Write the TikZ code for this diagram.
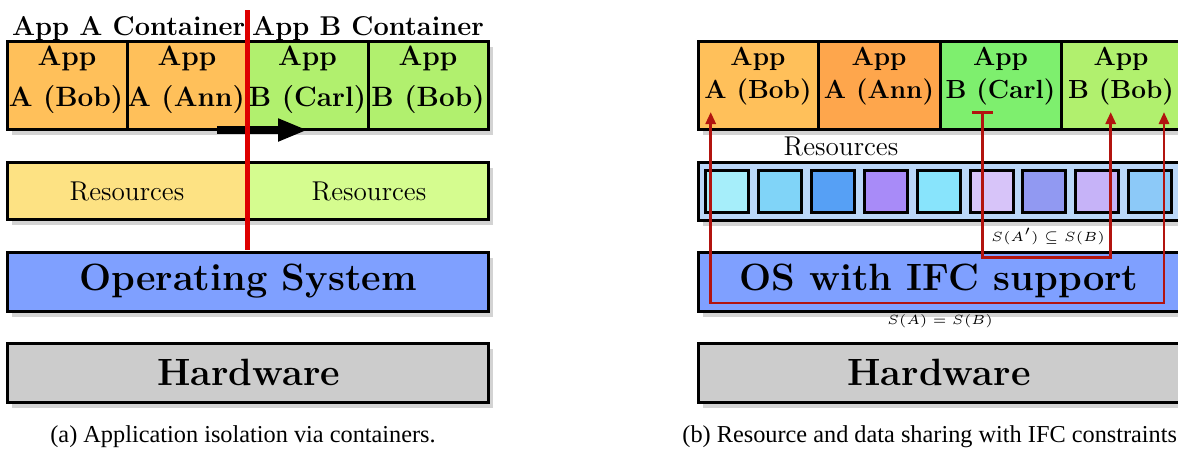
\documentclass[tikz,border=0pt]{standalone}
\usepackage{fontspec}
\newfontfamily\capfont{Liberation Serif}
\usetikzlibrary{arrows.meta,shadows}
\definecolor{appA}{HTML}{FFC05A}
\definecolor{appAnn}{HTML}{FEA64C}
\definecolor{appB}{HTML}{B1F06E}
\definecolor{appCarl}{HTML}{7EEF6E}
\definecolor{resA}{HTML}{FDE283}
\definecolor{resB}{HTML}{D5FC8F}
\definecolor{osblue}{HTML}{7FA0FF}
\definecolor{hwgray}{HTML}{CCCCCC}
\definecolor{resblue}{HTML}{BBD7F8}
\definecolor{shadowgray}{HTML}{D3D3D3}
\definecolor{isored}{RGB}{222,0,0}
\definecolor{ifcred}{RGB}{178,20,15}
\definecolor{sqa}{HTML}{A6EEFA}
\definecolor{sqb}{HTML}{80D4F8}
\definecolor{sqc}{HTML}{56A0F5}
\definecolor{sqd}{HTML}{A88BF8}
\definecolor{sqe}{HTML}{88E4FC}
\definecolor{sqf}{HTML}{D7C4F9}
\definecolor{sqg}{HTML}{9199F2}
\definecolor{sqh}{HTML}{C6B3F8}
\definecolor{sqi}{HTML}{8CC9F8}
\newcommand{\ftitle}{\fontsize{13.6}{16}\selectfont\bfseries}
\newcommand{\fappl}{\fontsize{14}{16}\selectfont\bfseries}
\newcommand{\fappr}{\fontsize{13.1}{16}\selectfont\bfseries}
\newcommand{\fres}{\fontsize{13.6}{16}\selectfont}
\newcommand{\fbig}{\fontsize{19}{22}\selectfont\bfseries}
\newcommand{\fcap}{\fontsize{12.15}{14}\selectfont\capfont}
\tikzset{
  shadowed/.style={drop shadow={shadow xshift=2.5pt,shadow yshift=-3pt,fill=shadowgray,opacity=1}},
  boxnode/.style={draw=black, line width=1.5pt, inner sep=0pt, shadowed},
  appbox/.style={boxnode, minimum width=60pt, minimum height=44pt},
  layerbox/.style={boxnode, minimum height=29.5pt},
  resbox/.style={draw=black, line width=1.5pt, inner sep=0pt, minimum width=21.5pt, minimum height=21pt},
  txt/.style={anchor=base, inner sep=0pt},
  ifc/.style={draw=ifcred, line width=1.4pt},
  ifctip/.style={arrows={Triangle[length=6pt,width=5pt]-Triangle[length=6pt,width=5pt]}},
  ifcbar/.style={arrows={Bar[width=10.5pt]-Triangle[length=6pt,width=5pt]}},
}
\begin{document}
\begin{tikzpicture}[x=0.5pt,y=-0.5pt]
\useasboundingbox (0,0) rectangle (1178,450);
\clip (0,0) rectangle (1178,450);
% ---------------- left panel ----------------
\node[txt] (ttlA) at (128.5,35) {\ftitle App A Container};
\node[txt] (ttlB) at (368,35) {\ftitle App B Container};
\node[appbox, fill=appA] (LA) at (67,85) {};
\node[appbox, fill=appA] (LB) at (187,85) {};
\node[appbox, fill=appB, minimum width=60.5pt] (LC) at (307.5,85) {};
\node[appbox, fill=appB] (LD) at (428,85) {};
\node[txt] (LA1) at (67,65) {\fappl App};
\node[txt] (LA2) at (66,106) {\fappl A (Bob)};
\node[txt] (LB1) at (187,65) {\fappl App};
\node[txt] (LB2) at (186,106) {\fappl A (Ann)};
\node[txt] (LC1) at (307.5,65) {\fappl App};
\node[txt] (LC2) at (307.5,106) {\fappl B (Carl)};
\node[txt] (LD1) at (428,65) {\fappl App};
\node[txt] (LD2) at (428,106) {\fappl B (Bob)};
\node[layerbox, fill=resA, minimum width=120pt, minimum height=28.5pt] (resL) at (127,190.5) {};
\node[layerbox, fill=resB, minimum width=120.5pt, minimum height=28.5pt] (resR) at (367.5,190.5) {};
\node[txt] (resLt) at (127,200) {\fres Resources};
\node[txt] (resRt) at (369,200) {\fres Resources};
\node[layerbox, fill=osblue, minimum width=240.5pt] (osL) at (247.5,281.5) {};
\node[txt] (osLt) at (248,290) {\fbig Operating System};
\node[layerbox, fill=hwgray, minimum width=240.5pt] (hwL) at (247.5,372.5) {};
\node[txt] (hwLt) at (248.5,385) {\fbig Hardware};
\coordinate (mvS) at (217,130);
\coordinate (mvE) at (308,130);
\draw[line width=4pt, -{Triangle[length=15pt,width=10.5pt]}] (mvS) -- (mvE);
\coordinate (isoT) at (247,10);
\coordinate (isoB) at (247,250);
\draw[isored, line width=2.5pt] (isoT) -- (isoB);
\node[txt, anchor=base west] (capA) at (50,442) {\fcap (a) Application isolation via containers.};
% ---------------- right panel ----------------
\node[appbox, fill=appA] (RA) at (758,85) {};
\node[appbox, fill=appAnn, minimum width=61pt] (RB) at (879,85) {};
\node[appbox, fill=appCarl, minimum width=60.5pt] (RC) at (1000.5,85) {};
\node[appbox, fill=appB] (RD) at (1121,85) {};
\node[txt] (RA1) at (758,65) {\fappr App};
\node[txt] (RA2) at (758,98) {\fappr A (Bob)};
\node[txt] (RB1) at (879,65) {\fappr App};
\node[txt] (RB2) at (879,98) {\fappr A (Ann)};
\node[txt] (RC1) at (1000.5,65) {\fappr App};
\node[txt] (RC2) at (1000.5,98) {\fappr B (Carl)};
\node[txt] (RD1) at (1121,65) {\fappr App};
\node[txt] (RD2) at (1121,98) {\fappr B (Bob)};
\node[txt] (resLbl) at (841,155) {\fres Resources};
\node[boxnode, fill=resblue, minimum width=241.5pt, minimum height=29pt] (resbar) at (939.5,191) {};
\foreach \i/\c in {0/sqa,1/sqb,2/sqc,3/sqd,4/sqe,5/sqf,6/sqg,7/sqh,8/sqi}
  \node[resbox, fill=\c] (sq\i) at ({727+\i*52.9},191) {};
\node[layerbox, fill=osblue, minimum width=241.5pt] (osR) at (939.5,281.5) {};
\node[txt] (osRt) at (939,290) {\fbig OS with IFC support};
\node[layerbox, fill=hwgray, minimum width=241.5pt] (hwR) at (939.5,372.5) {};
\node[txt] (hwRt) at (939,385) {\fbig Hardware};
% IFC connectors
\coordinate (aBobIn) at (710.7,112);
\coordinate (bBobInA) at (1110.7,112);
\coordinate (bBobInB) at (1164,112);
\coordinate (carlOut) at (982.5,111);
\coordinate (loopOuter) at (1164,303);
\coordinate (loopInner) at (1110.7,257.5);
\draw[ifc, ifctip] (aBobIn) |- (loopOuter) -- (bBobInB);
\draw[ifc, ifcbar] (carlOut) |- (loopInner) -- (bBobInA);
\node[txt] (lblSub) at (1048,241) {\scalebox{1.33}{\tiny $S(A')\subseteq S(B)$}};
\node[txt] (lblEq) at (940,324) {\scalebox{1.33}{\tiny $S(A)=S(B)$}};
\node[txt, anchor=base west] (capB) at (682,442) {\fcap (b) Resource and data sharing with IFC constraints};
\end{tikzpicture}
\end{document}
